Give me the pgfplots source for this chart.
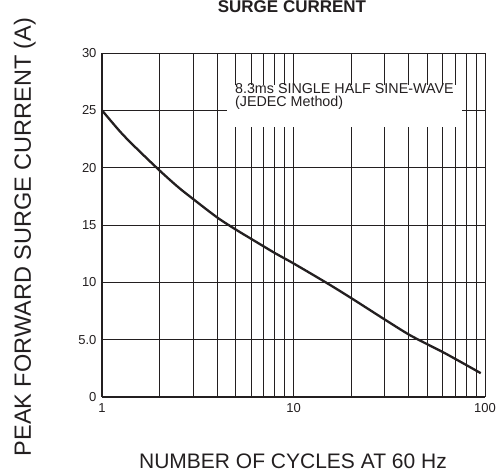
\documentclass[border=0pt]{standalone}
\usepackage{fontspec}
\setmainfont{Liberation Sans}
\usepackage{pgfplots}
\pgfplotsset{compat=1.18}
\definecolor{ink}{HTML}{231F20}
\begin{document}
\begin{tikzpicture}
\useasboundingbox (-102pt,-77pt) rectangle (399pt,397pt);
\begin{axis}[
  at={(0pt,0pt)}, anchor=south west,
  scale only axis, width=383pt, height=344pt,
  xmode=log, xmin=1, xmax=100, ymin=0, ymax=30,
  xtick={1,10,100}, xticklabels={1,10,100},
  ytick={0,5,10,15,20,25,30}, yticklabels={0,5.0,10,15,20,25,30},
  /pgf/number format/assume math mode=true,
  grid=both,
  major grid style={ink, line width=0.9pt},
  minor grid style={ink, line width=0.9pt},
  major tick length=0pt, minor tick length=0pt,
  axis line style={ink, line width=1pt},
  ticklabel style={font=\fontsize{13}{13}\selectfont, text=ink},
  xticklabel style={yshift=-3pt},
  yticklabel style={xshift=-2pt},
  clip=false,
]
\addplot[ink, line width=2.3pt, smooth] coordinates {
 (1,25) (1.25,23.1) (1.5,21.75) (2,19.75) (2.5,18.3) (3,17.25) (4,15.65) (5,14.6) (6,13.8)
 (8,12.55) (10,11.65) (15,9.92) (20,8.63) (30,6.75) (40,5.45) (50,4.6) (60,3.93) (70,3.32)
 (80,2.78) (90,2.3) (95,2.08)
};
\coordinate (boxA) at (rel axis cs:0.326,0.785);
\coordinate (boxB) at (rel axis cs:0.940,0.907);
\coordinate (txt) at (rel axis cs:0.347,0.844);
\end{axis}
\fill[white] (boxA) rectangle (boxB);
\node[anchor=base west, align=left, inner sep=0pt, text=ink,
      font=\fontsize{14.3}{12.8}\selectfont] at (txt)
      {8.3ms SINGLE HALF SINE-WAVE\\(JEDEC Method)};
\node[anchor=base, font=\fontsize{17}{17}\bfseries, text=ink] at (190pt,384pt) {SURGE CURRENT};
\node[anchor=base, font=\fontsize{21}{21}\selectfont, text=ink] at (191pt,-71pt) {NUMBER OF CYCLES AT 60 Hz};
\node[anchor=base, rotate=90, font=\fontsize{23.5}{23.5}\selectfont, text=ink] at (-71pt,160pt) {PEAK FORWARD SURGE CURRENT (A)};
\end{tikzpicture}
\end{document}
